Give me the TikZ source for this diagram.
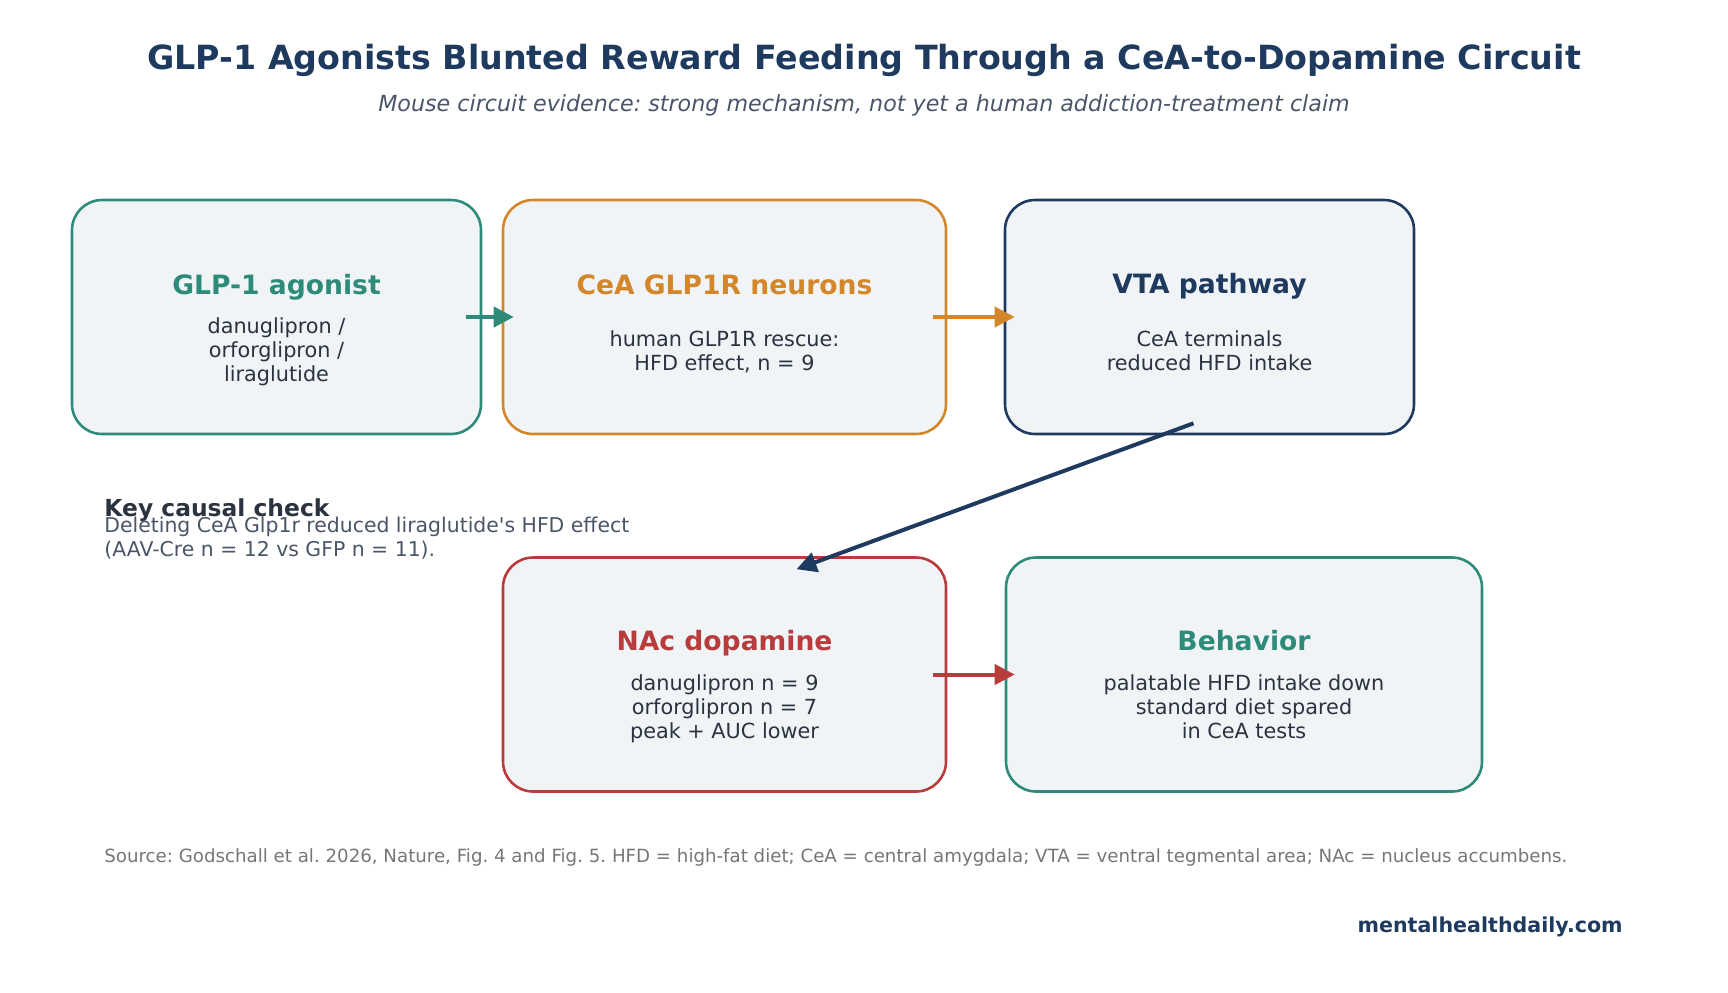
\documentclass[tikz,border=0pt]{standalone}
\usepackage{fontspec}
\setmainfont{DejaVu Sans}
\usetikzlibrary{arrows.meta,calc}
\definecolor{heading}{HTML}{1F3A5F}
\definecolor{subcolor}{HTML}{4A5568}
\definecolor{bodycolor}{HTML}{2B3340}
\definecolor{notecolor}{HTML}{767676}
\definecolor{boxfill}{HTML}{F0F4F7}
\definecolor{tealcolor}{HTML}{2E8B7A}
\definecolor{orangecolor}{HTML}{D4872A}
\definecolor{navycolor}{HTML}{1F3A5F}
\definecolor{redcolor}{HTML}{B83C3C}
\tikzset{
  circ box/.style={draw=#1,fill=boxfill,line width=1.3pt,rounded corners=15pt,minimum height=117pt,inner sep=0pt},
  circ title/.style={text=#1,anchor=base,inner sep=0pt,font=\fontsize{13.3}{16}\selectfont\bfseries},
  circ body/.style={text=bodycolor,align=center,inner sep=0pt,font=\fontsize{10.4}{12}\selectfont,
    execute at begin node=\strut,execute at end node=\strut},
  circ arrow/.style={draw=#1,line width=2pt,-{Triangle[length=10pt,width=10pt]}}
}

\begin{document}
\frenchspacing
\begin{tikzpicture}[x=0.5pt,y=-0.5pt]
  \useasboundingbox (0,0) rectangle (1728,992);
  \node[anchor=base,inner sep=0pt,text=heading,font=\fontsize{16.65}{20}\selectfont\bfseries] (title) at (864,69)
    {GLP-1 Agonists Blunted Reward Feeding Through a CeA-to-Dopamine Circuit};
  \node[anchor=base,inner sep=0pt,text=subcolor,font=\fontsize{11.1}{14}\selectfont\itshape] (subtitle) at (864,111)
    {Mouse circuit evidence: strong mechanism, not yet a human addiction-treatment claim};

  % top row
  \node[circ box=tealcolor,minimum width=204.5pt] (agonist) at (276.5,317) {};
  \node[circ box=orangecolor,minimum width=221.5pt] (ceaneu) at (724.5,317) {};
  \node[circ box=navycolor,minimum width=204.5pt] (vta) at (1209.5,317) {};
  % bottom row
  \node[circ box=redcolor,minimum width=221.5pt] (nac) at (724.5,674.5) {};
  \node[circ box=tealcolor,minimum width=238pt] (behav) at (1244,674.5) {};

  \node[circ title=tealcolor] (agonist title) at ($(agonist.center)+(0,-23)$) {GLP-1 agonist};
  \node[circ body] (agonist body) at ($(agonist.center)+(0,36)$) {danuglipron /\\orforglipron /\\liraglutide};
  \node[circ title=orangecolor] (ceaneu title) at ($(ceaneu.center)+(0,-23)$) {CeA GLP1R neurons};
  \node[circ body] (ceaneu body) at ($(ceaneu.center)+(0,37)$) {human GLP1R rescue:\\HFD effect, n = 9};
  \node[circ title=navycolor] (vta title) at ($(vta.center)+(0,-24)$) {VTA pathway};
  \node[circ body] (vta body) at ($(vta.center)+(0,37)$) {CeA terminals\\reduced HFD intake};
  \node[circ title=redcolor] (nac title) at ($(nac.center)+(0,-24)$) {NAc dopamine};
  \node[circ body] (nac body) at ($(nac.center)+(0,36)$) {danuglipron n = 9\\orforglipron n = 7\\peak + AUC lower};
  \node[circ title=tealcolor] (behav title) at ($(behav.center)+(0,-24)$) {Behavior};
  \node[circ body] (behav body) at ($(behav.center)+(0,36)$) {palatable HFD intake down\\standard diet spared\\in CeA tests};

  \draw[circ arrow=tealcolor] ($(agonist.east)+(-16,0)$) -- ($(ceaneu.west)+(12,0)$);
  \draw[circ arrow=orangecolor] ($(ceaneu.east)+(-14,0)$) -- ($(vta.west)+(11,0)$);
  \draw[circ arrow=navycolor] ($(vta.south)+(-16,-12)$) -- ($(nac.north)+(72,13)$);
  \draw[circ arrow=redcolor] ($(nac.east)+(-14,0)$) -- ($(behav.west)+(10,0)$);

  % side note
  \node[anchor=base west,inner sep=0pt,text=bodycolor,font=\fontsize{11.7}{14}\selectfont\bfseries] (key head) at (104,516) {Key causal check};
  \node[anchor=north west,align=left,inner sep=0pt,text=subcolor,font=\fontsize{10.2}{12}\selectfont,
    execute at begin node=\strut] (key body) at (104,517)
    {Deleting CeA Glp1r reduced liraglutide\textquotesingle s HFD effect\\(AAV-Cre n = 12 vs GFP n = 11).};

  \node[anchor=base west,inner sep=0pt,text=notecolor,font=\fontsize{9.1}{11}\selectfont] (source) at (104,862)
    {Source: Godschall et al. 2026, Nature, Fig. 4 and Fig. 5. HFD = high-fat diet; CeA = central amygdala; VTA = ventral tegmental area; NAc = nucleus accumbens.};
  \node[anchor=base east,inner sep=0pt,text=heading,font=\fontsize{10.3}{12}\selectfont\bfseries] (site) at (1623,932) {mentalhealthdaily.com};
\end{tikzpicture}
\end{document}
